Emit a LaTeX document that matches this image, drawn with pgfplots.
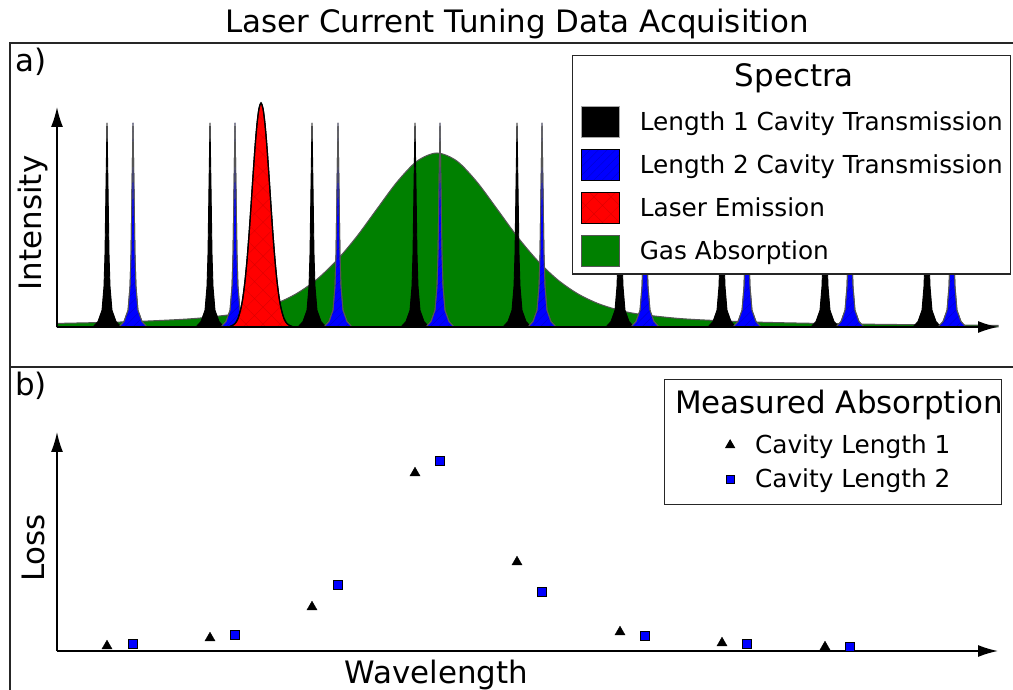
\documentclass[border=0pt]{standalone}
\usepackage{fontspec}
\setmainfont{DejaVu Sans}
\usepackage{pgfplots}
\pgfplotsset{compat=1.18}
\usetikzlibrary{arrows.meta,patterns.meta}
\definecolor{gasgreen}{HTML}{008000}
\definecolor{edgegray}{HTML}{555555}
\newcommand{\bigfont}{\fontsize{30.9}{36}\selectfont}
\newcommand{\smallfont}{\fontsize{24.75}{29}\selectfont}
\pgfplotsset{panel/.style={scale only axis, width=941pt, xmin=0, xmax=941, ymin=0,
  axis lines=left,
  axis line style={line width=1.6pt, -{Latex[length=20pt,width=12pt]}},
  xtick=\empty, ytick=\empty, clip=false, axis on top,
  label style={font=\bigfont},
  legend style={draw=black!85, line width=1.2pt, fill=white, font=\smallfont,
    column sep=0pt,
    nodes={inner sep=0pt, text height=24pt, text depth=7pt, anchor=west},
    cells={anchor=west}}}}
\begin{document}
\begin{tikzpicture}
\useasboundingbox (0pt,0pt) rectangle (1013pt,689pt);
\fill[white] (0pt,0pt) rectangle (1013pt,689pt);
\draw[line width=1.4pt, black!85] (1020pt,646pt) -- (10pt,646pt) -- (10pt,-10pt);
\draw[line width=1.4pt, black!85] (10pt,322pt) -- (1020pt,322pt);
\node[anchor=base, inner sep=0pt, font=\bigfont] at (517pt,656pt) {Laser Current Tuning Data Acquisition};
\node[anchor=base west, inner sep=0pt, font=\bigfont] at (15pt,617pt) {a)};
\node[anchor=base west, inner sep=0pt, font=\bigfont] at (15pt,293pt) {b)};

% ---------------- top panel ----------------
\begin{axis}[panel, at={(57pt,362pt)}, anchor=south west, height=220pt, ymax=220,
  ylabel={Intensity}, ylabel style={at={(axis description cs:-0.0255,0.473)}, anchor=center},
  legend style={at={(axis description cs:0.5473,1.2364)}, anchor=north west,
    inner xsep=8pt, inner ysep=7pt, row sep=11pt,
    /tikz/every odd column/.append style={column sep=20pt}}]
\addlegendimage{empty legend}
\addlegendentry[text depth=8pt]{\hspace*{95pt}{\bigfont Spectra}}
\addlegendimage{legend image code/.code={\draw[draw=black!35, fill=black, line width=1pt] (0pt,-15.5pt) rectangle (38pt,15.5pt);}}
\addlegendentry{Length 1 Cavity Transmission}
\addlegendimage{legend image code/.code={\fill[blue] (0pt,-15.5pt) rectangle (38pt,15.5pt);
   \fill[pattern={Lines[angle=45,distance=6pt,line width=0.4pt]}, pattern color=blue!80!black] (0pt,-15.5pt) rectangle (38pt,15.5pt);}}
\addlegendentry{Length 2 Cavity Transmission}
\addlegendimage{legend image code/.code={\draw[draw=black!85, fill=red, line width=1.2pt] (0pt,-15.5pt) rectangle (38pt,15.5pt);
   \fill[pattern={Hatch[angle=45,distance=12pt,line width=0.3pt]}, pattern color=red!85!black] (0pt,-15.5pt) rectangle (38pt,15.5pt);}}
\addlegendentry{Laser Emission}
\addlegendimage{legend image code/.code={\draw[draw=edgegray, fill=gasgreen, line width=1pt] (0pt,-15.5pt) rectangle (38pt,15.5pt);}}
\addlegendentry{Gas Absorption}

% gas absorption
\addplot[forget plot, smooth, fill=gasgreen, draw=edgegray, line width=1pt] coordinates {
(0,3.6)(60,4.9)(100,6.4)(140,8.7)(180,13.2)(200,17.4)(220,23.9)(240,33.7)(260,47.8)
(280,67.0)(300,90.8)(320,118.1)(340,145.0)(360,165.9)(380,174)(400,165.9)(420,145.0)
(440,118.1)(460,90.8)(480,67.0)(500,47.8)(520,33.7)(540,23.9)(560,17.4)(580,13.2)
(620,8.7)(660,6.4)(700,4.9)(755,3.7)(830,2.6)(941,1.6)} \closedcycle;

% length 1 cavity transmission
\addplot[forget plot, fill=black, draw=black, line width=0.9pt, line join=round] coordinates {
(36,0)(41,5.5)(45,16.8)(47,40.8)(48,73.4)(49,141.2)(50,204)(51,141.2)(52,73.4)(53,40.8)(55,16.8)(59,5.5)(64,0)
(139,0)(144,5.5)(148,16.8)(150,40.8)(151,73.4)(152,141.2)(153,204)(154,141.2)(155,73.4)(156,40.8)(158,16.8)(162,5.5)(167,0)
(241,0)(246,5.5)(250,16.8)(252,40.8)(253,73.4)(254,141.2)(255,204)(256,141.2)(257,73.4)(258,40.8)(260,16.8)(264,5.5)(269,0)
(344,0)(349,5.5)(353,16.8)(355,40.8)(356,73.4)(357,141.2)(358,204)(359,141.2)(360,73.4)(361,40.8)(363,16.8)(367,5.5)(372,0)
(446,0)(451,5.5)(455,16.8)(457,40.8)(458,73.4)(459,141.2)(460,204)(461,141.2)(462,73.4)(463,40.8)(465,16.8)(469,5.5)(474,0)
(549,0)(554,5.5)(558,16.8)(560,40.8)(561,73.4)(562,141.2)(563,204)(564,141.2)(565,73.4)(566,40.8)(568,16.8)(572,5.5)(577,0)
(651,0)(656,5.5)(660,16.8)(662,40.8)(663,73.4)(664,141.2)(665,204)(666,141.2)(667,73.4)(668,40.8)(670,16.8)(674,5.5)(679,0)
(754,0)(759,5.5)(763,16.8)(765,40.8)(766,73.4)(767,141.2)(768,204)(769,141.2)(770,73.4)(771,40.8)(773,16.8)(777,5.5)(782,0)
(856,0)(861,5.5)(865,16.8)(867,40.8)(868,73.4)(869,141.2)(870,204)(871,141.2)(872,73.4)(873,40.8)(875,16.8)(879,5.5)(884,0)};

% length 2 cavity transmission
\addplot[forget plot, fill=blue, draw=edgegray, line width=0.9pt, line join=round,
  postaction={pattern={Lines[angle=45,distance=6pt,line width=0.4pt]}, pattern color=blue!80!black}] coordinates {
(62,0)(67,5.5)(71,16.8)(73,40.8)(74,73.4)(75,141.2)(76,204)(77,141.2)(78,73.4)(79,40.8)(81,16.8)(85,5.5)(90,0)
(164,0)(169,5.5)(173,16.8)(175,40.8)(176,73.4)(177,141.2)(178,204)(179,141.2)(180,73.4)(181,40.8)(183,16.8)(187,5.5)(192,0)
(267,0)(272,5.5)(276,16.8)(278,40.8)(279,73.4)(280,141.2)(281,204)(282,141.2)(283,73.4)(284,40.8)(286,16.8)(290,5.5)(295,0)
(369,0)(374,5.5)(378,16.8)(380,40.8)(381,73.4)(382,141.2)(383,204)(384,141.2)(385,73.4)(386,40.8)(388,16.8)(392,5.5)(397,0)
(471,0)(476,5.5)(480,16.8)(482,40.8)(483,73.4)(484,141.2)(485,204)(486,141.2)(487,73.4)(488,40.8)(490,16.8)(494,5.5)(499,0)
(574,0)(579,5.5)(583,16.8)(585,40.8)(586,73.4)(587,141.2)(588,204)(589,141.2)(590,73.4)(591,40.8)(593,16.8)(597,5.5)(602,0)
(676,0)(681,5.5)(685,16.8)(687,40.8)(688,73.4)(689,141.2)(690,204)(691,141.2)(692,73.4)(693,40.8)(695,16.8)(699,5.5)(704,0)
(779,0)(784,5.5)(788,16.8)(790,40.8)(791,73.4)(792,141.2)(793,204)(794,141.2)(795,73.4)(796,40.8)(798,16.8)(802,5.5)(807,0)
(881,0)(886,5.5)(890,16.8)(892,40.8)(893,73.4)(894,141.2)(895,204)(896,141.2)(897,73.4)(898,40.8)(900,16.8)(904,5.5)(909,0)};

% laser emission
\addplot[forget plot, smooth, fill=red, draw=black, line width=1.2pt,
  postaction={pattern={Hatch[angle=45,distance=12pt,line width=0.3pt]}, pattern color=red!85!black}] coordinates {
(171,0)(174,0.9)(178,3.4)(181,8.5)(184,19.0)(186,30.3)(188,46.1)(190,66.8)(192,92.1)(194,120.9)
(196,150.9)(198,179.4)(200,202.9)(202,218.5)(204,224)(206,218.5)(208,202.9)(210,179.4)(212,150.9)
(214,120.9)(216,92.1)(218,66.8)(220,46.1)(222,30.3)(224,19.0)(227,8.5)(230,3.4)(234,0.9)(237,0)};
\end{axis}

% ---------------- bottom panel ----------------
\begin{axis}[panel, at={(57pt,38pt)}, anchor=south west, height=219pt, ymax=219,
  xlabel={Wavelength}, xlabel style={at={(axis description cs:0.403,0)}, anchor=base, yshift=-32pt},
  ylabel={Loss}, ylabel style={at={(axis description cs:-0.0255,0.470)}, anchor=center},
  legend style={at={(axis description cs:0.6451,1.242)}, anchor=north west,
    inner xsep=10.5pt, inner ysep=10pt, row sep=3pt,
    /tikz/every odd column/.append style={column sep=15pt}}]
\addlegendimage{empty legend}
\addlegendentry[text depth=13pt]{\hspace*{-80pt}{\bigfont Measured Absorption}\hspace*{-12pt}}
\addlegendimage{black, mark size=4.8pt, legend image code/.code={\path[draw=none,fill=none] (0pt,0pt) rectangle (65pt,0pt);
   \pgftransformshift{\pgfpoint{55pt}{0pt}}\pgfuseplotmark{triangle*}}}
\addlegendentry{Cavity Length 1}
\addlegendimage{draw=black, fill=blue, line width=0.6pt, mark size=3.9pt, legend image code/.code={\path[draw=none,fill=none] (0pt,0pt) rectangle (65pt,0pt);
   \pgftransformshift{\pgfpoint{55pt}{0pt}}\pgfuseplotmark{square*}}}
\addlegendentry{Cavity Length 2}

\addplot[forget plot, only marks, mark=triangle*, mark size=5.8pt, black] coordinates {
(50,5)(153,13)(255,44)(358,178)(460,89)(563,19)(665,8)(768,4)};
\addplot[forget plot, only marks, mark=square*, mark size=4.7pt, mark options={fill=blue, draw=black, line width=0.6pt}] coordinates {
(76,7)(178,16)(281,66)(383,190)(485,59)(588,15)(690,7)(793,4)};
\end{axis}
\end{tikzpicture}
\end{document}
